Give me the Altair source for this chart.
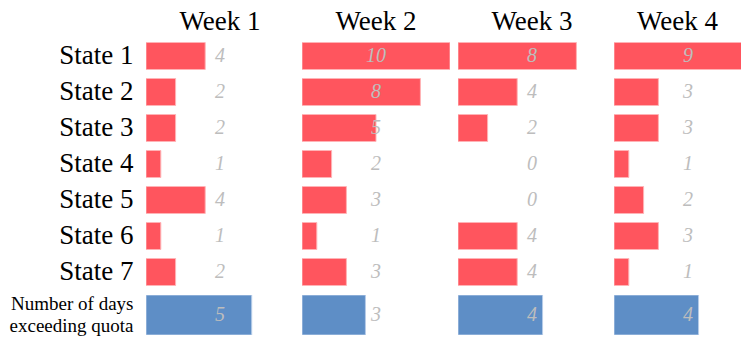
import altair as alt
import pandas as pd

weeks = ["Week 1", "Week 2", "Week 3", "Week 4"]
states = ["State 1", "State 2", "State 3", "State 4", "State 5", "State 6", "State 7"]
week_values = [
    [4, 2, 2, 1, 4, 1, 2],
    [10, 8, 5, 2, 3, 1, 3],
    [8, 4, 2, 0, 0, 4, 4],
    [9, 3, 3, 1, 2, 3, 1],
]
days_exceeding = [5, 3, 4, 4]
days_label = "Number of days\nexceeding quota"

RED_MAX = 10
DAYS_MAX = 7
PANEL_W = 148
LAST_W = 127
SERIF = "Liberation Serif"
RED = "#FF555E"
RED_EDGE = "#FFB3B6"
BLUE = "#5E8EC6"
BLUE_EDGE = "#B7CCE8"
GREY = "#BDBDBD"


def left_axis(size, lh=None):
    kw = dict(title=None, domain=False, ticks=False, labelFont=SERIF,
              labelFontSize=size, labelColor="black", labelPadding=13,
              minExtent=146, maxExtent=146, labelLimit=300)
    if lh:
        kw["labelLineHeight"] = lh
        kw["labelExpr"] = "split(datum.label, '\\n')"
        kw["labelOffset"] = -11
    return alt.Axis(**kw)


def state_panel(i):
    df = pd.DataFrame({"state": states, "value": week_values[i]})
    width = PANEL_W if i < 3 else LAST_W
    frac = width / PANEL_W
    x = alt.X("value:Q", scale=alt.Scale(domain=[0, RED_MAX * frac], nice=False), axis=None)
    y = alt.Y("state:N", sort=states,
              scale=alt.Scale(paddingInner=0.25, paddingOuter=0.125),
              axis=left_axis(27) if i == 0 else None)
    base = alt.Chart(df)
    bars = base.mark_bar(color=RED, stroke=RED_EDGE, strokeWidth=1, clip=True).encode(
        x=x, y=y).transform_filter("datum.value > 0")
    text = base.mark_text(font=SERIF, fontStyle="italic", fontSize=20, color=GREY).encode(
        x=alt.value(PANEL_W / 2), y=y, text="value:Q")
    return alt.layer(bars, text).properties(
        width=width, height=252,
        title=alt.TitleParams(weeks[i], font=SERIF, fontSize=27, fontWeight="normal",
                              color="black", baseline="bottom", offset=-25))


def days_panel(i):
    df = pd.DataFrame({"label": [days_label], "value": [days_exceeding[i]]})
    width = PANEL_W if i < 3 else LAST_W
    frac = width / PANEL_W
    x = alt.X("value:Q", scale=alt.Scale(domain=[0, DAYS_MAX * frac], nice=False), axis=None)
    y = alt.Y("label:N", scale=alt.Scale(paddingInner=0, paddingOuter=0),
              axis=left_axis(19, 22) if i == 0 else None)
    base = alt.Chart(df)
    bars = base.mark_bar(color=BLUE, stroke=BLUE_EDGE, strokeWidth=1, clip=True).encode(x=x, y=y)
    text = base.mark_text(font=SERIF, fontStyle="italic", fontSize=20, color=GREY).encode(
        x=alt.value(PANEL_W / 2), y=y, text="value:Q")
    return alt.layer(bars, text).properties(width=width, height=40)


top = alt.hconcat(*[state_panel(i) for i in range(4)], spacing=8)
bottom = alt.hconcat(*[days_panel(i) for i in range(4)], spacing=8)

chart = alt.vconcat(top, bottom, spacing=4).properties(
    padding={"left": 0, "top": 8, "right": 0, "bottom": 0}
).configure_view(stroke=None)

chart.save("out.html", embed_options={"renderer": "svg", "actions": False})
